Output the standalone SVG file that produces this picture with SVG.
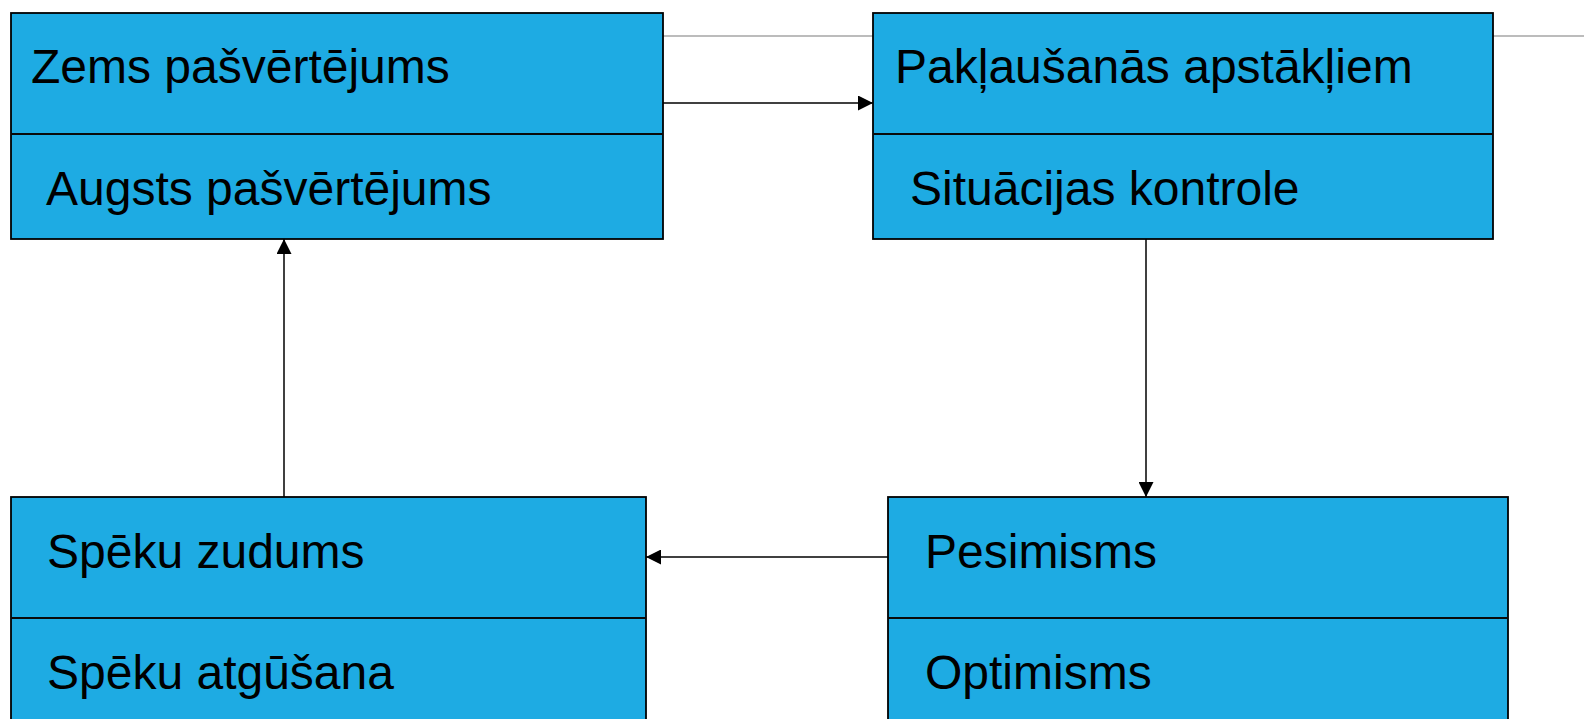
<svg xmlns="http://www.w3.org/2000/svg" width="1584" height="719" viewBox="0 0 1584 719">
<defs>
<style>
.box{fill:#1eabe3;stroke:#000;stroke-width:1.8}
.div{stroke:#0a0a0a;stroke-width:1.8}
.t{font-family:"Liberation Sans",Arial,sans-serif;font-size:48px;fill:#000}
.c{stroke:#000;stroke-width:1.5;fill:none}
</style>
<marker id="ah" viewBox="0 0 10 10" refX="10" refY="5" markerWidth="15" markerHeight="15" markerUnits="userSpaceOnUse" orient="auto">
<path d="M0,0 L10,5 L0,10 Z" fill="#000"/>
</marker>
</defs>
<rect width="1584" height="719" fill="#fff"/>
<line x1="400" y1="36" x2="1584" y2="36" stroke="#a6a6a6" stroke-width="1.5"/>
<g id="n1">
<rect class="box" x="11" y="13" width="652" height="226"/>
<line class="div" x1="11" y1="134" x2="663" y2="134"/>
<text class="t" x="31" y="83">Zems pašvērtējums</text>
<text class="t" x="46" y="205">Augsts pašvērtējums</text>
</g>
<g id="n2">
<rect class="box" x="873" y="13" width="620" height="226"/>
<line class="div" x1="873" y1="134" x2="1493" y2="134"/>
<text class="t" x="895" y="83">Pakļaušanās apstākļiem</text>
<text class="t" x="910" y="205">Situācijas kontrole</text>
</g>
<g id="n3">
<rect class="box" x="11" y="497" width="635" height="240"/>
<line class="div" x1="11" y1="618" x2="646" y2="618"/>
<text class="t" x="47" y="568">Spēku zudums</text>
<text class="t" x="47" y="689">Spēku atgūšana</text>
</g>
<g id="n4">
<rect class="box" x="888" y="497" width="620" height="240"/>
<line class="div" x1="888" y1="618" x2="1508" y2="618"/>
<text class="t" x="925" y="568">Pesimisms</text>
<text class="t" x="925" y="689">Optimisms</text>
</g>
<g id="connectors">
<line class="c" x1="663" y1="103" x2="873" y2="103" marker-end="url(#ah)"/>
<line class="c" x1="1146" y1="239" x2="1146" y2="497" marker-end="url(#ah)"/>
<line class="c" x1="888" y1="557" x2="646" y2="557" marker-end="url(#ah)"/>
<line class="c" x1="284" y1="497" x2="284" y2="239" marker-end="url(#ah)"/>
</g>
</svg>
